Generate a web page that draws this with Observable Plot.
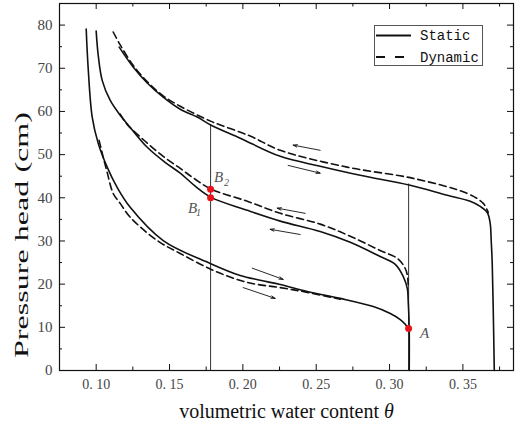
<!DOCTYPE html>
<html><head><meta charset="utf-8">
<script src="https://cdn.jsdelivr.net/npm/d3@7"></script>
<script src="https://cdn.jsdelivr.net/npm/@observablehq/plot@0.6"></script>
<style>
html,body{margin:0;padding:0;background:#fff;}
#wrap{position:relative;width:516px;height:427px;background:#fff;}
#legend{position:absolute;left:374px;top:25px;}
</style></head><body>
<div id="wrap"></div>
<script>
// ---- tick values and labels ----
const xTicks = [0.10, 0.15, 0.20, 0.25, 0.30, 0.35];
const xTickLabels = ["0. 10", "0. 15", "0. 20", "0. 25", "0. 30", "0. 35"];
const xMinorTicks = [0.125, 0.175, 0.225, 0.275, 0.325, 0.375];
const yTicks = [0, 10, 20, 30, 40, 50, 60, 70, 80];
const yMinorTicks = [5, 15, 25, 35, 45, 55, 65, 75];
const xLabel = "volumetric water content θ";
const yLabel = "Pressure head (cm)";

// ---- curves (theta, pressure head cm) ----
const staticUpperTheta = [0.1157, 0.1252, 0.1348, 0.1457, 0.1573, 0.1689, 0.1784, 0.1982, 0.2255, 0.2527, 0.2800, 0.3141, 0.3393, 0.3550, 0.3618, 0.3666, 0.3686, 0.3693, 0.3700, 0.3707, 0.3714];
const staticUpperHead  = [74.9, 70.3, 66.6, 63.3, 60.5, 58.7, 56.8, 53.8, 49.6, 47.3, 45.2, 42.9, 40.6, 39.2, 38.0, 36.6, 34.1, 30.1, 24.8, 13.9, 0];

const dynamicUpperTheta = [0.1116, 0.1164, 0.1252, 0.1348, 0.1457, 0.1573, 0.1784, 0.2050, 0.2255, 0.2711, 0.3161, 0.3530, 0.3639, 0.3673];
const dynamicUpperHead  = [78.4, 75.4, 70.7, 66.9, 63.6, 61.2, 57.7, 54.3, 51.0, 47.1, 44.5, 41.0, 38.7, 36.6];

const staticMiddleTheta = [0.1000, 0.1014, 0.1041, 0.1095, 0.1164, 0.1232, 0.1348, 0.1470, 0.1573, 0.1675, 0.1784, 0.2030, 0.2255, 0.2527, 0.2732, 0.2936, 0.3039, 0.3093, 0.3121, 0.3127, 0.3134, 0.3134];
const staticMiddleHead  = [78.6, 73.0, 67.2, 62.6, 59.1, 56.3, 51.7, 48.2, 45.7, 42.7, 40.1, 37.1, 34.6, 32.2, 29.7, 26.4, 24.6, 21.8, 19.0, 16.2, 9.7, 0];

const dynamicMiddleTheta = [0.1164, 0.1211, 0.1334, 0.1457, 0.1573, 0.1675, 0.1784, 0.2030, 0.2255, 0.2527, 0.2732, 0.2936, 0.3052, 0.3100, 0.3120, 0.3127];
const dynamicMiddleHead  = [59.4, 57.0, 53.1, 49.6, 46.8, 44.3, 42.0, 39.2, 36.4, 33.9, 31.1, 27.8, 26.0, 24.1, 22.3, 19.9];

const staticLowerTheta = [0.0932, 0.0945, 0.0973, 0.1014, 0.1075, 0.1143, 0.1232, 0.1457, 0.1777, 0.1982, 0.2118, 0.2255, 0.2439, 0.2664, 0.2889, 0.3005, 0.3073, 0.3107, 0.3127];
const staticLowerHead  = [79.1, 70.3, 58.7, 52.6, 47.1, 42.4, 37.8, 30.1, 24.8, 22.0, 20.9, 19.9, 18.3, 16.7, 14.8, 13.2, 11.8, 10.7, 9.7];

const dynamicLowerTheta = [0.1020, 0.1048, 0.1075, 0.1116, 0.1164, 0.1232, 0.1416, 0.1573, 0.1798, 0.2030, 0.2255, 0.2439, 0.2664];
const dynamicLowerHead  = [53.3, 49.4, 45.9, 41.0, 38.7, 35.5, 30.1, 27.1, 23.2, 20.4, 19.2, 18.1, 16.5];

// ---- reference verticals ----
const refTheta = [0.178, 0.313];
const refTop = [56.8, 43.2];

// ---- marked points ----
const markerTheta = [0.178, 0.178, 0.313];
const markerHead = [40.0, 42.0, 9.7];
const markerName = ["B", "B", "A"];
const markerSub = ["1", "2", ""];

// ---- direction arrows ----
const arrowX1 = [0.2527, 0.2309, 0.2425, 0.2391, 0.2064, 0.2002];
const arrowY1 = [51.0, 47.5, 36.4, 31.5, 23.7, 19.2];
const arrowX2 = [0.2343, 0.2527, 0.2234, 0.2186, 0.2275, 0.2220];
const arrowY2 = [52.2, 45.7, 37.6, 32.7, 21.1, 16.7];

const pts = (xs, ys) => xs.map((x, i) => ({theta: x, head: ys[i]}));
const serif = "'Liberation Serif', 'Times New Roman', serif";

function curve(xs, ys, dashed) {
  return Plot.line(pts(xs, ys), {x: "theta", y: "head", stroke: "#111", strokeWidth: 1.6,
    curve: "catmull-rom", strokeDasharray: dashed ? "7,4" : null});
}
function label(i, txt, dx, dy, size) {
  return Plot.text([i], {x: j => markerTheta[j], y: j => markerHead[j], text: () => txt, dx, dy,
    fontSize: size, fontStyle: "italic", fill: "#555", fontFamily: serif});
}

const W = 516, H = 427, mL = 59, mR = 3, mT = 3, mB = 57;
const fw = W - mL - mR, fh = H - mT - mB;
const idxA = d3.range(arrowX1.length);

const chart = Plot.plot({
  width: W, height: H,
  marginLeft: mL, marginRight: mR, marginTop: mT, marginBottom: mB,
  style: {fontFamily: serif, background: "#fff"},
  x: {domain: [0.075, 0.3845]},
  y: {domain: [0, 85]},
  marks: [
    Plot.ruleX(refTheta.map((t, i) => ({t, top: refTop[i]})), {x: "t", y1: 0, y2: "top", stroke: "#333", strokeWidth: 1}),
    curve(staticUpperTheta, staticUpperHead, false),
    curve(dynamicUpperTheta, dynamicUpperHead, true),
    curve(staticMiddleTheta, staticMiddleHead, false),
    curve(dynamicMiddleTheta, dynamicMiddleHead, true),
    curve(staticLowerTheta, staticLowerHead, false),
    curve(dynamicLowerTheta, dynamicLowerHead, true),
    Plot.arrow(idxA, {x1: i => arrowX1[i], y1: i => arrowY1[i], x2: i => arrowX2[i], y2: i => arrowY2[i],
      stroke: "#111", strokeWidth: 0.9, headLength: 7, headAngle: 35}),
    Plot.dot(d3.range(markerTheta.length), {x: i => markerTheta[i], y: i => markerHead[i], r: 3.5, fill: "#e8141c", stroke: "none"}),
    label(0, "B", -18, 10, 15), label(0, "1", -12, 15, 10),
    label(1, "B", 8, -12, 15), label(1, "2", 16, -6, 10),
    label(2, "A", 16, 5, 15),
    // ticks (inward) on all four sides
    Plot.ruleX(xTicks, {x: d => d, insetTop: fh - 6, stroke: "#111"}),
    Plot.ruleX(xTicks, {x: d => d, insetBottom: fh - 6, stroke: "#111"}),
    Plot.ruleX(xMinorTicks, {x: d => d, insetTop: fh - 3.5, stroke: "#111"}),
    Plot.ruleX(xMinorTicks, {x: d => d, insetBottom: fh - 3.5, stroke: "#111"}),
    Plot.ruleY(yTicks, {y: d => d, insetRight: fw - 6, stroke: "#111"}),
    Plot.ruleY(yTicks, {y: d => d, insetLeft: fw - 6, stroke: "#111"}),
    Plot.ruleY(yMinorTicks, {y: d => d, insetRight: fw - 3, stroke: "#111"}),
    Plot.ruleY(yMinorTicks, {y: d => d, insetLeft: fw - 3, stroke: "#111"}),
    Plot.axisX({ticks: xTicks, tickFormat: d => xTickLabels[xTicks.indexOf(d)], tickSize: 0, tickPadding: 9,
      fontSize: 14, fontFamily: serif, fill: "#444", label: null}),
    Plot.axisY({ticks: yTicks, tickSize: 0, tickPadding: 7, fontSize: 15, fontFamily: serif, fill: "#444", label: null}),
    Plot.frame({stroke: "#111", strokeWidth: 1.2}),
    Plot.text([yLabel], {text: d => d, frameAnchor: "left", dx: -37, dy: 47, rotate: -90, fontSize: 18,
      fontFamily: serif, fill: "#111"}),
    Plot.text([xLabel], {text: d => d, frameAnchor: "bottom", dy: 47, fontSize: 20, fontFamily: serif, fill: "#111"})
  ]
});

chart.querySelectorAll("text").forEach(t => {
  if (t.textContent === yLabel) {
    t.setAttribute("text-anchor", "start");
    t.setAttribute("x", -124);
    t.setAttribute("textLength", 246);
    t.setAttribute("lengthAdjust", "spacingAndGlyphs");
  } else if (t.textContent === xLabel) {
    t.textContent = "volumetric water content ";
    const ts = document.createElementNS("http://www.w3.org/2000/svg", "tspan");
    ts.setAttribute("font-style", "italic");
    ts.textContent = "θ";
    t.appendChild(ts);
  }
});

const wrap = document.getElementById("wrap");
wrap.appendChild(chart);

// legend
const legend = document.createElement("div");
legend.id = "legend";
legend.innerHTML = `<svg width="110" height="42" style="display:block">
  <rect x="0.5" y="0.5" width="108" height="40" fill="#fff" stroke="#555" stroke-width="1"/>
  <line x1="2" x2="37" y1="10.5" y2="10.5" stroke="#111" stroke-width="1.8"/>
  <line x1="2" x2="30" y1="32" y2="32" stroke="#111" stroke-width="1.8" stroke-dasharray="9,10"/>
  <text x="46" y="15" font-family="'Liberation Mono', monospace" font-size="14" fill="#111">Static</text>
  <text x="46" y="36.5" font-family="'Liberation Mono', monospace" font-size="14" fill="#111">Dynamic</text>
</svg>`;
wrap.appendChild(legend);
</script>
</body></html>
